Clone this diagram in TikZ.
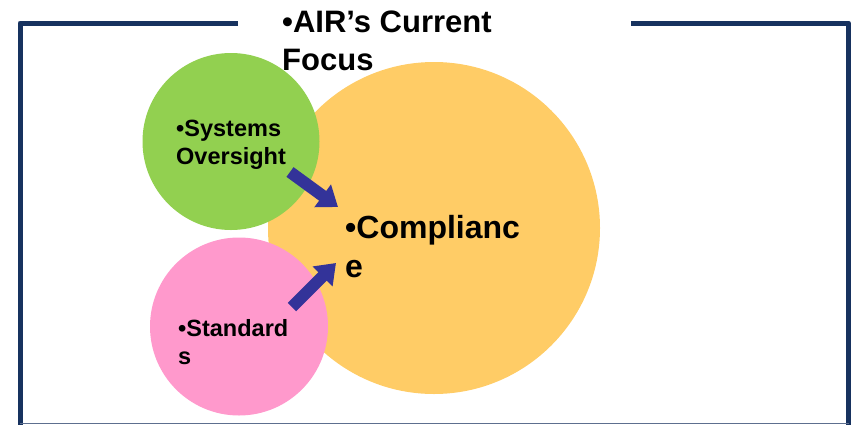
\documentclass[tikz,border=0pt]{standalone}
\usepackage{fontspec}
\setmainfont{Liberation Sans}
\usetikzlibrary{arrows.meta}

\begin{document}
\begin{tikzpicture}[x=1pt,y=-1pt]

% Colors
\definecolor{framenavy}{RGB}{23,50,95}
\definecolor{arrowblue}{RGB}{51,51,153}
\definecolor{focusorange}{RGB}{255,204,102}
\definecolor{systemsgreen}{RGB}{146,208,80}
\definecolor{standardspink}{RGB}{255,153,204}

\tikzset{
  bubble/.style={circle, inner sep=0pt},
  bubbletext/.style={anchor=north west, inner sep=0pt, align=left},
  push/.style={arrowblue, line width=12pt, -{Triangle[width=27pt,length=19pt]}}
}

\useasboundingbox (0,0) rectangle (854,424);

% Frame
\draw[framenavy, line width=5pt, line join=round] (238,23) -- (20,23) -- (20,426);
\draw[framenavy, line width=5pt, line join=round] (631,23) -- (848.5,23) -- (848.5,426);
\draw[framenavy!70, line width=1pt] (20,423.5) -- (848.5,423.5);

% Circles
\node[bubble, fill=focusorange, minimum size=332pt] (compliance) at (434,228) {};
\node[bubble, fill=systemsgreen, minimum size=177pt] (systems) at (231,141.5) {};
\node[bubble, fill=standardspink, minimum size=178pt] (standards) at (239,326.5) {};

% Labels
\node[bubbletext, font=\fontsize{31}{38}\selectfont\bfseries] (title) at (282,11) {•AIR’s Current\\Focus};
\node[bubbletext, font=\fontsize{23.5}{28}\selectfont\bfseries] (systemslabel) at (176,120) {•Systems\\Oversight};
\node[bubbletext, font=\fontsize{23.5}{28}\selectfont\bfseries] (standardslabel) at (178,319) {•Standard\\s};
\node[bubbletext, font=\fontsize{32}{39}\selectfont\bfseries] (compliancelabel) at (345,215) {•Complianc\\e};

% Arrows
\coordinate (sysfrom) at (290,172);
\coordinate (systo) at (338,207);
\coordinate (stdfrom) at (292,307);
\coordinate (stdto) at (336,263);
\draw[push] (sysfrom) -- (systo);
\draw[push] (stdfrom) -- (stdto);

\end{tikzpicture}
\end{document}
